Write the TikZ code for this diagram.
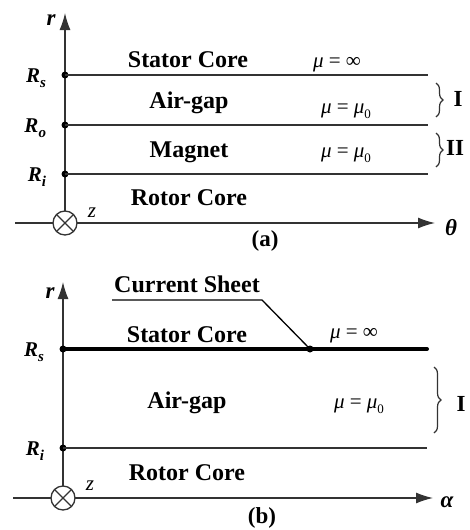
\documentclass[tikz,border=0pt]{standalone}
\usepackage{fontspec}
\setmainfont{Liberation Serif}
\usetikzlibrary{arrows.meta,decorations.pathreplacing}
\newcommand{\Rlab}[1]{\textbf{\textit{R}}\raisebox{-0.28em}{\fontsize{15}{15}\selectfont\textbf{\textit{#1}}}}
\newcommand{\muzero}{\textit{μ}\raisebox{-0.25em}{\fontsize{13}{13}\selectfont 0}}
\begin{document}
\begin{tikzpicture}[x=1pt,y=-1pt,
  every node/.style={inner sep=0pt, outer sep=0pt},
  thinline/.style={line width=1.3pt, draw=black!80},
  thickline/.style={line width=4pt, draw=black, line cap=round},
  axisline/.style={line width=1.3pt, draw=black!80},
  axisarrow/.style={axisline, -{Latex[length=17pt,width=11pt]}},
  dotn/.style={circle, fill=black, minimum size=7pt},
  zcirc/.style={circle, draw=black!80, line width=1.3pt, minimum size=24pt},
  region/.style={anchor=base, font=\fontsize{24}{28}\selectfont\bfseries},
  mathlab/.style={anchor=base, font=\fontsize{21}{25}\selectfont},
  rlab/.style={anchor=base east, font=\fontsize{21}{25}\selectfont},
  axlab/.style={anchor=base, font=\fontsize{23}{27}\selectfont\bfseries\itshape},
  zlab/.style={anchor=base, font=\fontsize{21}{25}\selectfont\itshape},
  caplab/.style={anchor=base, font=\fontsize{23}{27}\selectfont\bfseries},
  romlab/.style={anchor=base, font=\fontsize{23}{27}\selectfont\bfseries},
  bracel/.style={decorate, decoration={brace, amplitude=7pt}, line width=1.2pt, draw=black!80}
]
\useasboundingbox (0,0) rectangle (470,530);

% ================= (a) =================
\node[zcirc] (cxA) at (65,223) {};
\draw[axisline] (cxA.north east) -- (cxA.south west);
\draw[axisline] (cxA.north west) -- (cxA.south east);
\coordinate (thLeftA) at (15,223);
\coordinate (thTipA) at (435,223);
\coordinate (rTipA) at (65,13);
\draw[axisline] (thLeftA) -- (cxA.west);
\draw[axisarrow] (cxA.east) -- (thTipA);
\draw[axisarrow] (cxA.north) -- (rTipA);

\node[dotn] (rsA) at (65,75) {};
\node[dotn] (roA) at (65,125) {};
\node[dotn] (riA) at (65,174) {};
\coordinate (rsAe) at (428,75);
\coordinate (roAe) at (428,125);
\coordinate (riAe) at (428,174);
\draw[thinline] (rsA.center) -- (rsAe);
\draw[thinline] (roA.center) -- (roAe);
\draw[thinline] (riA.center) -- (riAe);

\node[rlab] (lrsA) at (46,82) {\Rlab{s}};
\node[rlab] (lroA) at (46,132) {\Rlab{o}};
\node[rlab] (lriA) at (46,181) {\Rlab{i}};
\node[axlab] (lrA) at (51,25) {r};
\node[axlab] (lthA) at (451,235) {θ};
\node[zlab] (lzA) at (92,217) {z};
\node[caplab] (capA) at (265,246) {(a)};

\node[region] (statA) at (188,67) {Stator Core};
\node[region] (airA) at (189,108) {Air-gap};
\node[region] (magA) at (189,157) {Magnet};
\node[region] (rotA) at (189,205) {Rotor Core};

\node[mathlab] (muinfA) at (337,67) {\textit{μ} = ∞};
\node[mathlab] (muairA) at (346,113) {\textit{μ} = \muzero};
\node[mathlab] (mumagA) at (346,157) {\textit{μ} = \muzero};

\coordinate (bIAt) at (436,83);
\coordinate (bIAb) at (436,117);
\coordinate (bIIAt) at (436,133);
\coordinate (bIIAb) at (436,167);
\draw[bracel] (bIAt) -- (bIAb);
\draw[bracel] (bIIAt) -- (bIIAb);
\node[romlab] (lIA) at (458,106) {I};
\node[romlab] (lIIA) at (455,155) {II};

% ================= (b) =================
\node[zcirc] (cxB) at (63,498) {};
\draw[axisline] (cxB.north east) -- (cxB.south west);
\draw[axisline] (cxB.north west) -- (cxB.south east);
\coordinate (alLeftB) at (13,498);
\coordinate (alTipB) at (433,498);
\coordinate (rTipB) at (63,282);
\draw[axisline] (alLeftB) -- (cxB.west);
\draw[axisarrow] (cxB.east) -- (alTipB);
\draw[axisarrow] (cxB.north) -- (rTipB);

\node[dotn] (rsB) at (63,349) {};
\node[dotn] (riB) at (63,448) {};
\coordinate (rsBe) at (427,349);
\coordinate (riBe) at (427,448);
\draw[thickline] (rsB.center) -- (rsBe);
\draw[thinline] (riB.center) -- (riBe);

\node[rlab] (lrsB) at (44,356) {\Rlab{s}};
\node[rlab] (lriB) at (44,455) {\Rlab{i}};
\node[axlab] (lrB) at (50,298) {r};
\node[axlab] (lalB) at (447,507) {α};
\node[zlab] (lzB) at (90,490) {z};
\node[caplab] (capB) at (262,523) {(b)};

\node[region] (statB) at (187,342) {Stator Core};
\node[region] (airB) at (187,408) {Air-gap};
\node[region] (rotB) at (187,480) {Rotor Core};

\node[mathlab] (muinfB) at (354,338) {\textit{μ} = ∞};
\node[mathlab] (muairB) at (359,408) {\textit{μ} = \muzero};

\node[region] (csB) at (187,292) {Current Sheet};
\node[dotn] (csdot) at (310,349) {};
\coordinate (csL) at (112,300);
\coordinate (csR) at (262,300);
\draw[line width=1.3pt] (csL) -- (csR) -- (csdot.center);

\coordinate (bIBt) at (434,367);
\coordinate (bIBb) at (434,433);
\draw[bracel] (bIBt) -- (bIBb);
\node[romlab] (lIB) at (461,411) {I};
\end{tikzpicture}
\end{document}
